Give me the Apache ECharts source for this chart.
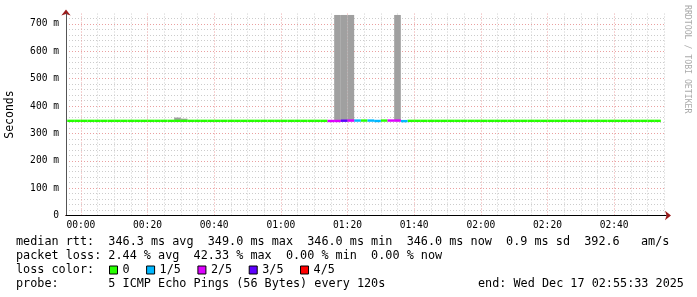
<!DOCTYPE html>
<html><head><meta charset="utf-8">
<script src="https://cdn.jsdelivr.net/npm/echarts@6/dist/echarts.min.js"></script>
<style>html,body{margin:0;padding:0;background:#fff}#c{width:697px;height:297px}</style>
</head><body><div id="c"></div>
<script>
// ---- data (minutes relative to 00:00, 2-minute RRD steps) ----
const FIRST_STEP = -6;
const STEP = 2;
const X_MIN = -4.45;   // 23:55:33
const X_MAX = 175.55;  // 02:55:33
const medianMs = [
  346,346,346,346,346,346,346,346,346,346,
  346,346,346,346,346,346,346,346,346,346,
  346,346,346,346,346,346,346,346,346,346,
  346,346,346,346,346,346,346,346,346,346,
  345.5,345.5,346.5,347,347,347,347,345.5,347,347,
  347,345,346,346,346,346,346,346,346,346,
  346,346,346,346,346,346,346,346,346,346,
  346,346,346,346,346,346,346,346,346,346,
  346,346,346,346,346,346,346,346,346,346
];
const lossCount = [
  0,0,0,0,0,0,0,0,0,0,
  0,0,0,0,0,0,0,0,0,0,
  0,0,0,0,0,0,0,0,0,0,
  0,0,0,0,0,0,0,0,0,0,
  2,2,3,2,1,0,1,1,0,2,
  2,1,0,0,0,0,0,0,0,0,
  0,0,0,0,0,0,0,0,0,0,
  0,0,0,0,0,0,0,0,0,0,
  0,0,0,0,0,0,0,0,0,0
];
const smokeStart = [28, 30, 76, 78, 80, 94];
const smokeLow   = [344, 344, 344, 344, 344, 344];
const smokeHigh  = [358, 354, 733, 733, 733, 733];

const lossNames  = ['0', '1/5', '2/5', '3/5', '4/5'];
const lossColors = ['#26ff00', '#00b8ff', '#dd00ff', '#5e00ff', '#ff0000'];

const xTickMinutes = [0, 20, 40, 60, 80, 100, 120, 140, 160];
const xTickLabels  = ['00:00','00:20','00:40','01:00','01:20','01:40','02:00','02:20','02:40'];
const yTickValues  = [0, 100, 200, 300, 400, 500, 600, 700];
const yTickLabels  = ['0','100 m','200 m','300 m','400 m','500 m','600 m','700 m'];

const legendLines = [
  'median rtt:  346.3 ms avg  349.0 ms max  346.0 ms min  346.0 ms now  0.9 ms sd  392.6   am/s',
  'packet loss: 2.44 % avg  42.33 % max  0.00 % min  0.00 % now',
  'loss color:',
  'probe:       5 ICMP Echo Pings (56 Bytes) every 120s'
];
const endText = 'end: Wed Dec 17 02:55:33 2025';

// ---- chart ----
const MONO = '"DejaVu Sans Mono", monospace';
const chart = echarts.init(document.getElementById('c'), null, {renderer: 'canvas'});

function clip(rect, params) {
  return echarts.graphic.clipRectByRect(rect, {
    x: params.coordSys.x, y: params.coordSys.y,
    width: params.coordSys.width, height: params.coordSys.height
  });
}
function medianItem(params, api) {
  const t = api.value(0), v = api.value(1);
  const p0 = api.coord([t, v]), p1 = api.coord([t + STEP, v]);
  const h = 2.4;
  const r = clip({x: p0[0], y: p0[1] - h / 2, width: p1[0] - p0[0], height: h}, params);
  return r && {type: 'rect', shape: r, style: {fill: api.visual('color')}};
}
function smokeItem(params, api) {
  const t = api.value(0), lo = api.value(1), hi = api.value(2);
  const p0 = api.coord([t, hi]), p1 = api.coord([t + STEP, lo]);
  const r = clip({x: p0[0], y: p0[1], width: p1[0] - p0[0], height: p1[1] - p0[1]}, params);
  return r && {type: 'rect', shape: r, style: {fill: '#a0a0a0'}};
}

// grid lines
const backMarks = [], frontMarks = [];
const majorStyle = {color: '#eaa0a0', type: [1, 2], width: 1};
const minorStyle = {color: '#cccccc', type: [1, 2], width: 1};
for (let m = 5; m < X_MAX; m += 5) {
  if (xTickMinutes.includes(m)) frontMarks.push({xAxis: m, lineStyle: majorStyle});
  else backMarks.push({xAxis: m, lineStyle: minorStyle});
}
frontMarks.push({xAxis: 0, lineStyle: majorStyle});
for (let v = 20; v <= 720; v += 20) {
  backMarks.push({yAxis: v, lineStyle: yTickValues.includes(v) ? majorStyle : minorStyle});
}

const series = [];
series.push({
  type: 'line', data: [], silent: true, z: 1,
  markLine: {silent: true, z: 1, symbol: ['none', 'none'], label: {show: false},
    emphasis: {disabled: true}, animation: false, data: backMarks}
});
series.push({
  type: 'custom', name: 'smoke', z: 2, renderItem: smokeItem,
  encode: {x: 0, y: [1, 2]},
  data: smokeStart.map((t, i) => [t, smokeLow[i], smokeHigh[i]])
});
series.push({
  type: 'line', data: [], silent: true, z: 2,
  markLine: {silent: true, z: 2, symbol: ['none', 'none'], label: {show: false},
    emphasis: {disabled: true}, animation: false, data: frontMarks}
});
lossNames.forEach((name, k) => {
  const data = [];
  medianMs.forEach((v, i) => { if (lossCount[i] === k) data.push([FIRST_STEP + STEP * i, v]); });
  series.push({type: 'custom', name, z: 3, renderItem: medianItem,
    itemStyle: {color: lossColors[k]}, encode: {x: 0, y: 1}, data});
});

const graphic = [];
const lineY = [241.5, 255.5, 269.5, 283.5];
legendLines.forEach((txt, i) => {
  graphic.push({type: 'text', x: 16, y: lineY[i], silent: true,
    style: {text: txt, font: '11.8px ' + MONO, fill: '#000', verticalAlign: 'middle'}});
});
graphic.push({type: 'text', x: 478, y: lineY[3], silent: true,
  style: {text: endText, font: '11.8px ' + MONO, fill: '#000', verticalAlign: 'middle'}});
graphic.push({type: 'text', x: 687, y: 5, rotation: -Math.PI / 2, silent: true,
  style: {text: 'RRDTOOL / TOBI OETIKER', font: '8.2px ' + MONO, fill: '#aaaaaa', verticalAlign: 'middle'}});

const option = {
  animation: false,
  backgroundColor: '#fff',
  grid: {left: 66, right: 31, top: 13.6, bottom: 81.5, containLabel: false, outerBoundsMode: 'none'},
  legend: {data: lossNames, left: 109, top: 264, padding: 0, itemWidth: 8, itemHeight: 8,
    itemGap: 16.5, icon: 'rect', selectedMode: false,
    itemStyle: {borderColor: '#000', borderWidth: 1},
    textStyle: {fontFamily: MONO, fontSize: 11.8, color: '#000'}},
  xAxis: [{
    type: 'value', min: X_MIN, max: X_MAX, position: 'bottom', z: 5,
    axisLine: {show: true, onZero: false, lineStyle: {color: '#000', width: 1}},
    axisTick: {show: false}, splitLine: {show: false},
    axisLabel: {customValues: xTickMinutes, margin: 5, fontFamily: MONO, fontSize: 9.6, color: '#000',
      formatter: v => xTickLabels[xTickMinutes.indexOf(Math.round(v))] || ''}
  }, {
    type: 'value', min: X_MIN, max: X_MAX, position: 'bottom', z: 4,
    axisLine: {show: true, onZero: false, lineStyle: {color: '#9b1c1c', width: 1},
      symbol: ['none', 'arrow'], symbolSize: [7, 6], symbolOffset: [0, 5]},
    axisTick: {show: false}, splitLine: {show: false}, axisLabel: {show: false}
  }],
  yAxis: [{
    type: 'value', min: 0, max: 738, position: 'left', z: 5,
    name: 'Seconds', nameLocation: 'middle', nameGap: 50, nameRotate: 90,
    nameTextStyle: {fontFamily: MONO, fontSize: 11.5, color: '#000'},
    axisLine: {show: true, onZero: false, lineStyle: {color: '#555', width: 1}},
    axisTick: {show: false}, splitLine: {show: false},
    axisLabel: {customValues: yTickValues, margin: 7, fontFamily: MONO, fontSize: 9.6, color: '#000',
      formatter: v => yTickLabels[yTickValues.indexOf(Math.round(v))] || ''}
  }, {
    type: 'value', min: 0, max: 738, position: 'left', z: 4,
    axisLine: {show: true, onZero: false, lineStyle: {color: '#9b1c1c', width: 1},
      symbol: ['none', 'arrow'], symbolSize: [7, 6], symbolOffset: [0, 4]},
    axisTick: {show: false}, splitLine: {show: false}, axisLabel: {show: false}
  }],
  series,
  graphic
};
chart.setOption(option);
</script>
</body></html>
